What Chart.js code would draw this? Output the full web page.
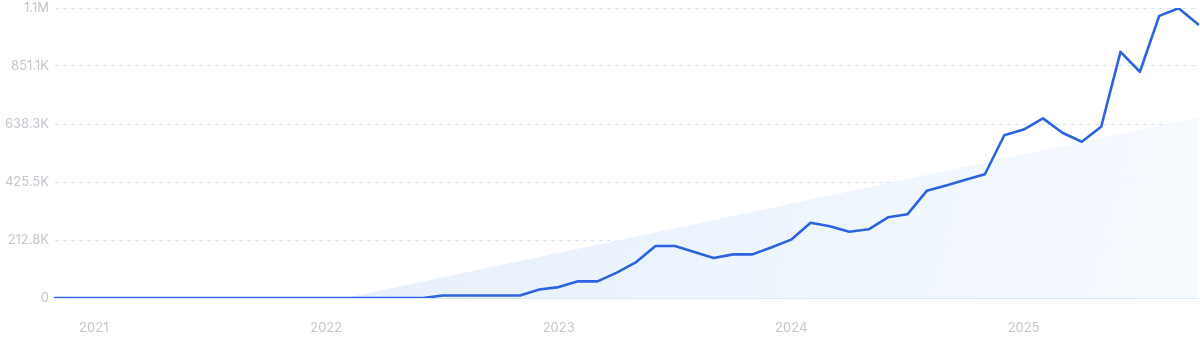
<!DOCTYPE html>
<html>
<head>
<meta charset="utf-8">
<script src="https://cdn.jsdelivr.net/npm/chart.js@4"></script>
<style>
html,body{margin:0;padding:0;background:#fff;}
#wrap{width:1200px;height:343px;position:relative;}
</style>
</head>
<body>
<div id="wrap"><canvas id="c" width="1200" height="343"></canvas></div>
<script>
const months = [
  '2020-11','2020-12',
  '2021-01','2021-02','2021-03','2021-04','2021-05','2021-06','2021-07','2021-08','2021-09','2021-10','2021-11','2021-12',
  '2022-01','2022-02','2022-03','2022-04','2022-05','2022-06','2022-07','2022-08','2022-09','2022-10','2022-11','2022-12',
  '2023-01','2023-02','2023-03','2023-04','2023-05','2023-06','2023-07','2023-08','2023-09','2023-10','2023-11','2023-12',
  '2024-01','2024-02','2024-03','2024-04','2024-05','2024-06','2024-07','2024-08','2024-09','2024-10','2024-11','2024-12',
  '2025-01','2025-02','2025-03','2025-04','2025-05','2025-06','2025-07','2025-08','2025-09','2025-10'
];
const searches = [
  0,0,
  0,0,0,0,0,0,0,0,0,0,0,0,
  0,0,0,0,0,0,9000,9000,9000,9000,9000,31000,
  40000,61000,61000,93000,132000,191000,191000,169000,147000,160000,160000,186000,
  214000,276000,263000,243000,252000,296000,307000,393000,413000,434000,454000,597000,
  618000,659000,606000,573000,628000,903000,830000,1035000,1063000,1004000
];
const trendMonths = ['2022-02','2025-10'];
const trendValues = [0, 662000];
const yearLabels = ['2021','2022','2023','2024','2025'];
const yTickValues = [0, 212760, 425520, 638280, 851040, 1063800];
const yTickLabels = ['0','212.8K','425.5K','638.3K','851.1K','1.1M'];

const ctx = document.getElementById('c').getContext('2d');
const FONT = "Inter, 'Noto Sans', sans-serif";

new Chart(ctx, {
  type: 'line',
  data: {
    labels: months,
    datasets: [
      {
        data: searches,
        borderColor: '#2d63de',
        borderWidth: 2.6,
        pointRadius: 0,
        tension: 0,
        fill: false,
        borderJoinStyle: 'round',
        borderCapStyle: 'round'
      },
      {
        data: trendMonths.map((m, i) => ({x: m, y: trendValues[i]})),
        borderWidth: 0,
        borderColor: 'rgba(0,0,0,0)',
        pointRadius: 0,
        tension: 0,
        fill: 'origin',
        backgroundColor: (c) => {
          const a = c.chart.chartArea;
          if (!a) return 'rgba(230,240,252,0.8)';
          const g = c.chart.ctx.createLinearGradient(a.left, a.top, a.right, a.bottom);
          g.addColorStop(0, 'rgba(221,234,250,0.95)');
          g.addColorStop(0.5, 'rgba(232,241,252,0.9)');
          g.addColorStop(1, 'rgba(246,250,255,0.9)');
          return g;
        }
      }
    ]
  },
  options: {
    responsive: false,
    animation: false,
    layout: { padding: { top: 8, right: 2, left: 0, bottom: 0 } },
    plugins: { legend: { display: false }, tooltip: { enabled: false } },
    scales: {
      x: {
        offset: false,
        grid: { display: false, drawTicks: false },
        border: { display: true, color: '#d9e8f8', width: 1 },
        ticks: {
          autoSkip: false,
          maxRotation: 0,
          padding: 22,
          color: '#c6c6ce',
          font: { family: FONT, size: 13 },
          callback: function(v, i) {
            const m = months[i];
            if (m && m.endsWith('-01')) {
              const y = m.slice(0, 4);
              return yearLabels.includes(y) ? y : '';
            }
            return '';
          }
        },
        afterFit: (s) => { s.height = 45; s.paddingLeft = 0; s.paddingRight = 0; }
      },
      y: {
        min: 0,
        max: yTickValues[yTickValues.length - 1],
        afterBuildTicks: (s) => { s.ticks = yTickValues.map(v => ({ value: v })); },
        grid: {
          color: '#d3e6f8',
          lineWidth: 1,
          drawTicks: false
        },
        border: { display: false, dash: [4, 4] },
        ticks: {
          padding: 6,
          color: '#c6c6ce',
          font: { family: FONT, size: 13 },
          callback: function(v) {
            const i = yTickValues.indexOf(v);
            return i >= 0 ? yTickLabels[i] : '';
          }
        },
        afterFit: (s) => { s.width = 55; s.paddingTop = 0; s.paddingBottom = 0; }
      }
    }
  }
});
</script>
</body>
</html>
